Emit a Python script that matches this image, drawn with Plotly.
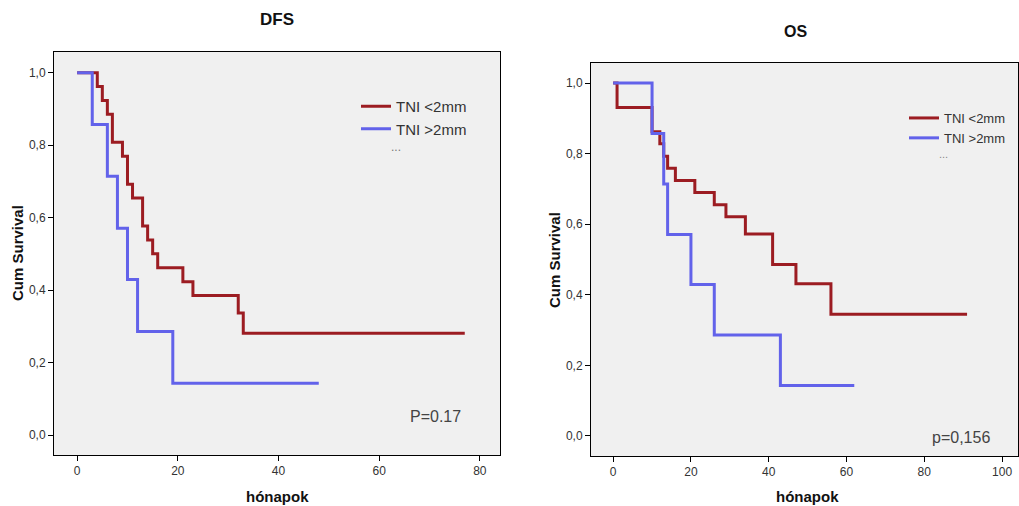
import plotly.graph_objects as go

# ---- data ----
dfs_lt2_t = [0, 4, 5, 6, 7, 9, 10, 11, 13, 14, 15, 16, 21, 23, 32, 33, 77]
dfs_lt2_s = [1.0, 0.962, 0.923, 0.885, 0.808, 0.769, 0.692, 0.654, 0.577, 0.538, 0.500, 0.462, 0.423, 0.385, 0.337, 0.281, 0.281]
dfs_gt2_t = [0, 3, 6, 8, 10, 12, 19, 48]
dfs_gt2_s = [1.0, 0.857, 0.714, 0.571, 0.429, 0.286, 0.143, 0.143]

os_lt2_t = [0, 1, 10, 12, 13, 14, 16, 21, 26, 29, 34, 41, 47, 56, 91]
os_lt2_s = [1.0, 0.931, 0.862, 0.828, 0.793, 0.759, 0.724, 0.690, 0.655, 0.621, 0.572, 0.486, 0.431, 0.345, 0.345]
os_gt2_t = [0, 10, 13, 14, 20, 26, 43, 62]
os_gt2_s = [1.0, 0.857, 0.714, 0.571, 0.429, 0.286, 0.143, 0.143]

group_names = ["TNI <2mm", "TNI >2mm"]
y_ticks = [0.0, 0.2, 0.4, 0.6, 0.8, 1.0]
y_ticktext = ["0,0", "0,2", "0,4", "0,6", "0,8", "1,0"]
dfs_xticks = [0, 20, 40, 60, 80]
os_xticks = [0, 20, 40, 60, 80, 100]
titles = ["DFS", "OS"]
p_texts = ["P=0.17", "p=0,156"]

RED = "#9c1c22"
BLUE = "#6262ea"
FONT = "Arial, Liberation Sans"

fig = go.Figure()

fig.add_trace(go.Scatter(x=dfs_lt2_t, y=dfs_lt2_s, mode="lines", line=dict(color=RED, width=3, shape="hv"),
                         name=group_names[0], xaxis="x", yaxis="y", legend="legend"))
fig.add_trace(go.Scatter(x=dfs_gt2_t, y=dfs_gt2_s, mode="lines", line=dict(color=BLUE, width=3, shape="hv"),
                         name=group_names[1], xaxis="x", yaxis="y", legend="legend"))
fig.add_trace(go.Scatter(x=os_lt2_t, y=os_lt2_s, mode="lines", line=dict(color=RED, width=3, shape="hv"),
                         name=group_names[0], xaxis="x2", yaxis="y2", legend="legend2"))
fig.add_trace(go.Scatter(x=os_gt2_t, y=os_gt2_s, mode="lines", line=dict(color=BLUE, width=3, shape="hv"),
                         name=group_names[1], xaxis="x2", yaxis="y2", legend="legend2"))

W, H = 1019, 506
def dx(px): return px / W
def dy(py): return 1 - py / H

axis_common = dict(showgrid=False, zeroline=False, showline=True, linecolor="black", linewidth=1,
                   mirror=True, ticks="outside", ticklen=5, tickcolor="black",
                   tickfont=dict(family=FONT, size=12, color="#333333"))

fig.update_layout(
    width=W, height=H,
    margin=dict(l=0, r=0, t=0, b=0),
    paper_bgcolor="white",
    plot_bgcolor="#f0f0f0",
    font=dict(family=FONT, color="#222222"),
    xaxis=dict(domain=[dx(54), dx(500)], range=[-4.6, 84], tickvals=dfs_xticks, anchor="y", **axis_common),
    yaxis=dict(domain=[dy(455), dy(52)], range=[-0.055, 1.057], tickvals=y_ticks, ticktext=y_ticktext,
               anchor="x", **axis_common),
    xaxis2=dict(domain=[dx(591), dx(1018)], range=[-5.7, 104.1], tickvals=os_xticks, anchor="y2", **axis_common),
    yaxis2=dict(domain=[dy(456), dy(63)], range=[-0.057, 1.057], tickvals=y_ticks, ticktext=y_ticktext,
                anchor="x2", **axis_common),
    legend=dict(x=dx(356), y=dy(90), xanchor="left", yanchor="top", bgcolor="rgba(0,0,0,0)",
                font=dict(family=FONT, size=15, color="#333333"), tracegroupgap=0, itemwidth=30),
    legend2=dict(x=dx(904), y=dy(103), xanchor="left", yanchor="top", bgcolor="rgba(0,0,0,0)",
                 font=dict(family=FONT, size=13, color="#333333"), tracegroupgap=0, itemwidth=30),
)

def note(text, px, py, size, color="#111111", angle=0):
    return dict(text=text, x=dx(px), y=dy(py), xref="paper", yref="paper", xanchor="center",
                yanchor="middle", showarrow=False, textangle=angle,
                font=dict(family=FONT, size=size, color=color))

ann = [
    note("<b>%s</b>" % titles[0], 277, 20, 17),
    note("<b>%s</b>" % titles[1], 795, 32, 16),
    note("<b>Cum Survival</b>", 17, 253, 15, angle=-90),
    note("<b>Cum Survival</b>", 554, 260, 15, angle=-90),
    note("<b>hónapok</b>", 277, 496, 15),
    note("<b>hónapok</b>", 807, 496, 15),
    note(p_texts[0], 435, 416, 16, "#444444"),
    note(p_texts[1], 961, 437, 16, "#444444"),
    note("...", 396, 147, 12, "#777777"),
    note("...", 943, 154, 11, "#888888"),
]
fig.update_layout(annotations=ann)

fig.write_html("out.html")
